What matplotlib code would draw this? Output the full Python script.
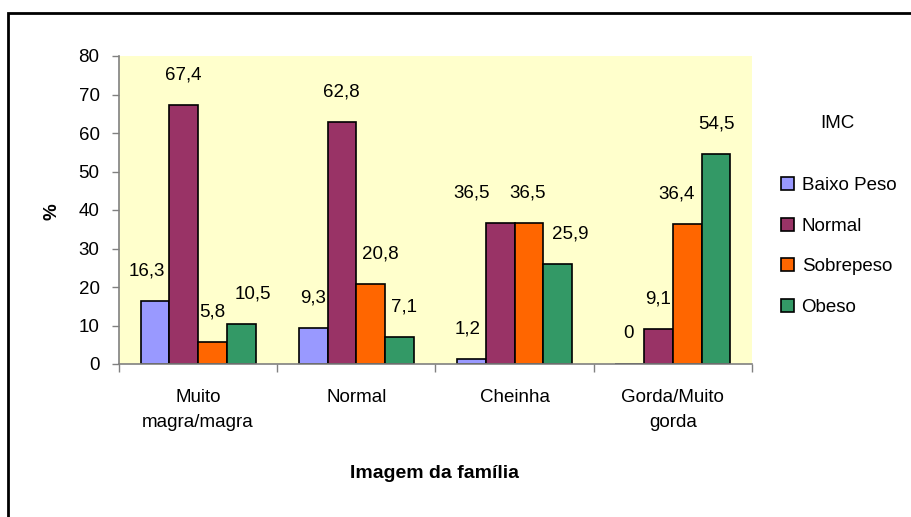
import numpy as np
import matplotlib
matplotlib.use("Agg")
import matplotlib.pyplot as plt
from matplotlib.patches import Rectangle

plt.rcParams['font.family'] = ['Liberation Sans', 'DejaVu Sans']

categories = ["Muito\nmagra/magra", "Normal", "Cheinha", "Gorda/Muito\ngorda"]
series_names = ["Baixo Peso", "Normal", "Sobrepeso", "Obeso"]
baixo_peso = [16.3, 9.3, 1.2, 0]
normal = [67.4, 62.8, 36.5, 9.1]
sobrepeso = [5.8, 20.8, 36.5, 36.4]
obeso = [10.5, 7.1, 25.9, 54.5]
values = [baixo_peso, normal, sobrepeso, obeso]
colors = ["#9999FF", "#993366", "#FF6600", "#339966"]

# horizontal nudges of the value labels (pixels), as in the original
label_nudge = [
    [-8, 0, -4, -1],
    [0, -1, -29, 0],
    [0, 10, -1, -11],
    [12, 4, 12, 0],
]

FS = 13.5
W, H = 912, 517
fig = plt.figure(figsize=(W / 100, H / 100), dpi=100)
ax = fig.add_axes([119 / W, 1 - 364 / H, (752 - 119) / W, (364 - 56) / H])
ax.set_facecolor("#FFFFCC")

x = np.arange(len(categories))
w = 0.182
for j, (name, vals) in enumerate(zip(series_names, values)):
    pos = x + (j - 1.5) * w
    ax.bar(pos, vals, width=w, color=colors[j], edgecolor="black",
           linewidth=1.2, label=name, zorder=3)
    for i, v in enumerate(vals):
        ax.annotate(f"{v:g}".replace(".", ","), (pos[i], v),
                    xytext=(label_nudge[j][i] * 0.72, 30 * 0.72),
                    textcoords="offset points", ha="center", va="center",
                    fontsize=FS)

ax.set_xlim(-0.5, len(categories) - 0.5)
ax.set_ylim(0, 80)
ax.set_yticks(range(0, 81, 10))
ax.set_xticks(x)
ax.set_xticklabels(categories, fontsize=FS, linespacing=1.6, va="top")
ax.set_xticks(np.arange(-0.5, len(categories), 1), minor=True)
ax.tick_params(axis="x", which="major", length=0, pad=18)
ax.tick_params(axis="x", which="minor", length=6, color="#808080", width=1)
ax.tick_params(axis="y", length=5, color="#808080", width=1, labelsize=FS, pad=9)
for s in ["top", "right"]:
    ax.spines[s].set_visible(False)
for s in ["left", "bottom"]:
    ax.spines[s].set_color("#808080")
    ax.spines[s].set_linewidth(1.2)
    ax.spines[s].set_zorder(5)

fig.text(52 / W, 1 - 212 / H, "%", fontsize=FS, fontweight="bold",
         rotation=90, ha="center", va="center")
fig.text(435 / W, 1 - 474 / H, "Imagem da família", fontsize=14,
         fontweight="bold", ha="center", va="center")

fig.text(837 / W, 1 - 123 / H, "IMC", fontsize=FS, ha="center", va="center")
ax.legend(loc="upper left", bbox_to_anchor=(781 / W, 1 - 177 / H),
          bbox_transform=fig.transFigure, frameon=False, fontsize=FS,
          handlelength=0.7, handleheight=0.7, handletextpad=0.4,
          labelspacing=1.25, borderpad=0, borderaxespad=0)

fig.add_artist(Rectangle((8 / W, -0.05), 1.1, 1 - 13 / H + 0.05,
                         transform=fig.transFigure, fill=False,
                         edgecolor="black", linewidth=2))

fig.savefig("out.png", dpi=100)
